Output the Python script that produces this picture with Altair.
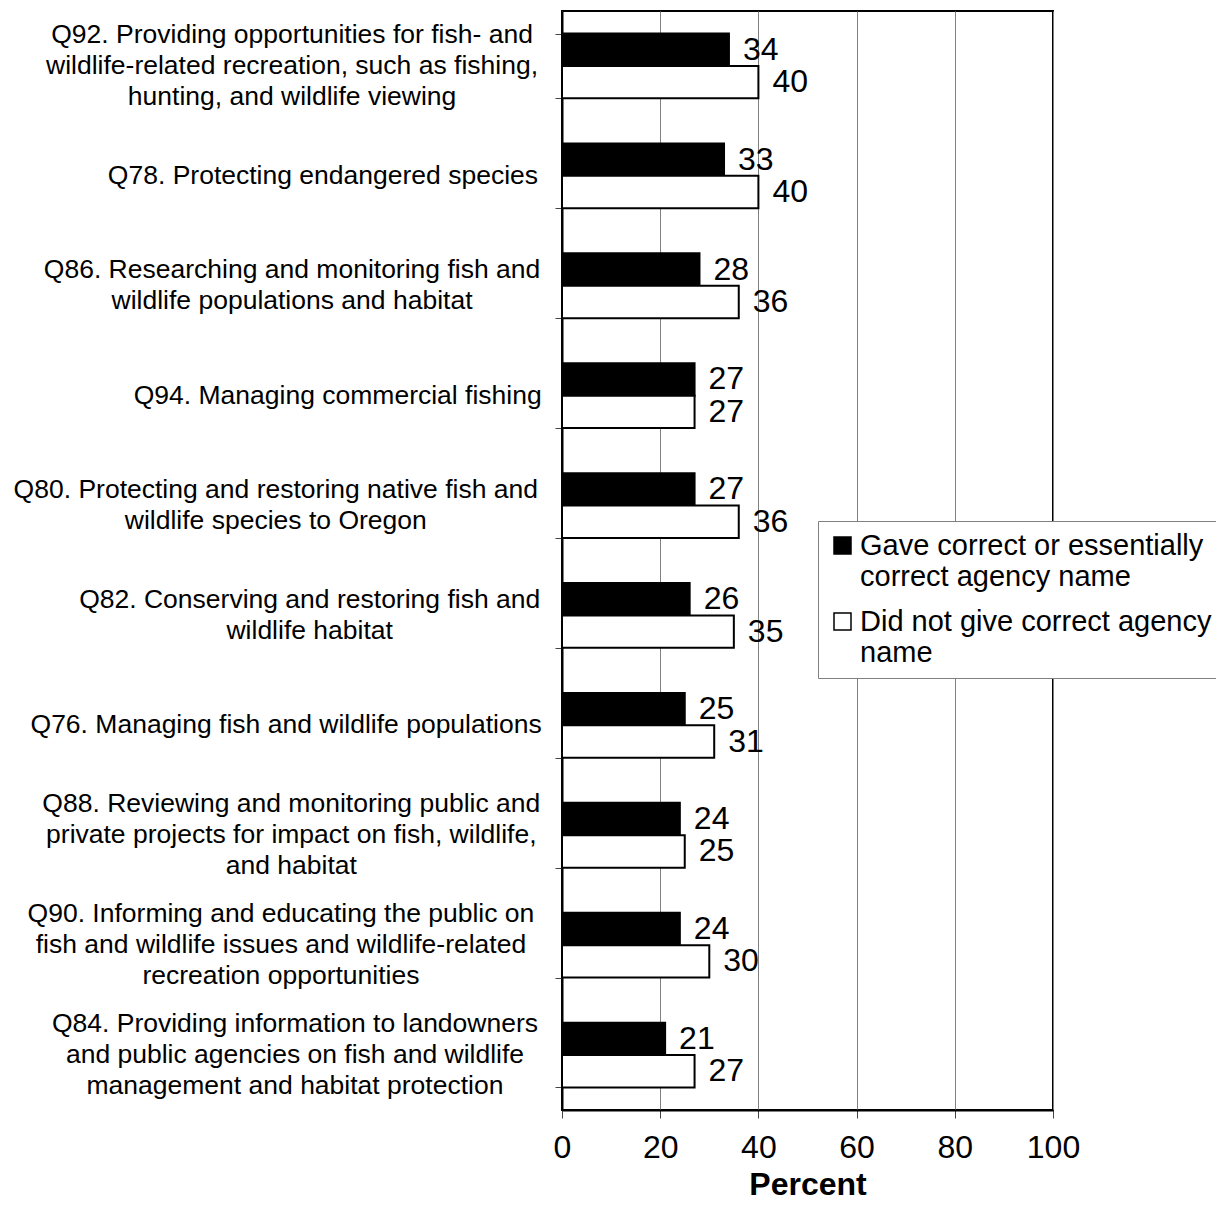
import altair as alt
import pandas as pd

# ---------------- data ----------------
codes = ["Q92", "Q78", "Q86", "Q94", "Q80", "Q82", "Q76", "Q88", "Q90", "Q84"]
category_labels = [
    "Q92. Providing opportunities for fish- and\nwildlife-related recreation, such as fishing,\nhunting, and wildlife viewing",
    "Q78. Protecting endangered species",
    "Q86. Researching and monitoring fish and\nwildlife populations and habitat",
    "Q94. Managing commercial fishing",
    "Q80. Protecting and restoring native fish and\nwildlife species to Oregon",
    "Q82. Conserving and restoring fish and\nwildlife habitat",
    "Q76. Managing fish and wildlife populations",
    "Q88. Reviewing and monitoring public and\nprivate projects for impact on fish, wildlife,\nand habitat",
    "Q90. Informing and educating the public on\nfish and wildlife issues and wildlife-related\nrecreation opportunities",
    "Q84. Providing information to landowners\nand public agencies on fish and wildlife\nmanagement and habitat protection",
]
gave_correct = [34, 33, 28, 27, 27, 26, 25, 24, 24, 21]
not_correct = [40, 40, 36, 27, 36, 35, 31, 25, 30, 27]
series = ["Gave correct or essentially correct agency name",
          "Did not give correct agency name"]
x_ticks = [0, 20, 40, 60, 80, 100]

# ---------------- layout constants ----------------
W, H = 491, 1099
CAT_FS = 26.5
CAT_LH = 31
CAT_RIGHT_GAP = 24  # px between label block right edge and the plot

# Arial / Liberation Sans advance widths (per 1000 em)
ARIAL = {
    'a': 556, 'b': 556, 'c': 500, 'd': 556, 'e': 556, 'f': 278, 'g': 556, 'h': 556,
    'i': 222, 'j': 222, 'k': 500, 'l': 222, 'm': 833, 'n': 556, 'o': 556, 'p': 556,
    'q': 556, 'r': 333, 's': 500, 't': 278, 'u': 556, 'v': 500, 'w': 722, 'x': 500,
    'y': 500, 'z': 500, 'Q': 778, 'O': 778, 'P': 667, ' ': 278, '.': 278, ',': 278,
    '-': 333,
}


def text_width(s, fs):
    return sum(ARIAL.get(ch, 556) for ch in s) / 1000.0 * fs


rows = []
for c, g, n in zip(codes, gave_correct, not_correct):
    rows.append({"code": c, "series": series[0], "value": g})
    rows.append({"code": c, "series": series[1], "value": n})
bars_df = pd.DataFrame(rows)

lab_rows = []
for c, t in zip(codes, category_labels):
    lines = t.split("\n")
    maxw = max(text_width(line, CAT_FS) for line in lines)
    center_px = -CAT_RIGHT_GAP - maxw / 2.0
    lab_rows.append({"code": c, "label": t, "lx": center_px * 100.0 / W,
                     "ldy": -(len(lines) - 1) * CAT_LH / 2.0})
labels_df = pd.DataFrame(lab_rows)

FONT = "Liberation Sans"

y_enc = alt.Y(
    "code:N", sort=codes, title=None,
    scale=alt.Scale(paddingInner=0.41, paddingOuter=0.205),
    axis=alt.Axis(labels=False, tickBand="extent", tickSize=7, tickColor="#444444",
                  tickWidth=1, domainColor="black", domainWidth=2, grid=False),
)
x_scale = alt.Scale(domain=[0, 100], nice=False, zero=True)

legend_expr = ("datum.label == '" + series[0] + "' ? ['Gave correct or essentially', 'correct agency name']"
               " : ['Did not give correct agency', 'name']")

bars = alt.Chart(bars_df).mark_bar(stroke="black", strokeWidth=2).encode(
    x=alt.X("value:Q", scale=x_scale,
            axis=alt.Axis(values=x_ticks, title="Percent", grid=True, gridColor="#808080",
                          gridWidth=1, tickSize=8, tickColor="#444444", labelFontSize=32,
                          labelPadding=14, labelFont=FONT, labelColor="black",
                          labelFlush=False, labelOverlap=False,
                          titleFont=FONT, titleFontSize=32, titleFontWeight="bold",
                          titleColor="black", titlePadding=6, domainColor="black",
                          domainWidth=2)),
    y=y_enc,
    yOffset=alt.YOffset("series:N", sort=series,
                        scale=alt.Scale(paddingInner=0, paddingOuter=0)),
    color=alt.Color("series:N", sort=series,
                    scale=alt.Scale(domain=series, range=["#000000", "#ffffff"]),
                    legend=alt.Legend(orient="none", legendX=256, legendY=510, title=None,
                                      symbolType="square", symbolSize=289,
                                      symbolStrokeColor="black", symbolStrokeWidth=1.5,
                                      labelFontSize=29, labelFont=FONT, labelColor="black",
                                      labelLimit=600, labelExpr=legend_expr,
                                      labelBaseline="middle",
                                      strokeColor="#808080", fillColor="white",
                                      padding=10, rowPadding=15, labelOffset=3)),
)

values = alt.Chart(bars_df).mark_text(
    align="left", baseline="middle", dx=14, fontSize=32, font=FONT, color="black"
).encode(
    x=alt.X("value:Q", scale=x_scale),
    y=y_enc,
    yOffset=alt.YOffset("series:N", sort=series,
                        scale=alt.Scale(paddingInner=0, paddingOuter=0)),
    text=alt.Text("value:Q"),
)

cat_text = alt.Chart(labels_df).mark_text(
    align="center", baseline="middle", fontSize=CAT_FS, font=FONT, color="black",
    lineBreak="\n", lineHeight=CAT_LH, dy=alt.ExprRef(expr="datum.ldy")
).encode(
    x=alt.X("lx:Q", scale=x_scale),
    y=y_enc,
    text="label:N",
)

chart = alt.layer(bars, values, cat_text).properties(
    width=W, height=H,
    autosize=alt.AutoSizeParams(type="none"),
    padding={"left": 554, "top": 3, "right": 163, "bottom": 92},
).configure(font=FONT).configure_view(stroke="black", strokeWidth=2)

chart.save("out.html", embed_options={"renderer": "svg", "actions": False})
